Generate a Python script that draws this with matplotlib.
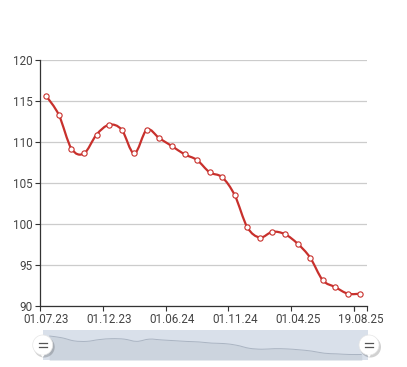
import numpy as np
import matplotlib
matplotlib.use("Agg")
import matplotlib.pyplot as plt
from matplotlib.path import Path
from matplotlib.patches import PathPatch, Circle, Rectangle

# monthly values (26 categories)
values = [115.6, 113.3, 109.2, 108.6, 110.9, 112.1, 111.5, 108.6, 111.5, 110.45,
          109.5, 108.5, 107.8, 106.3, 105.7, 103.5, 99.6, 98.35, 99.05, 98.75,
          97.6, 95.9, 93.15, 92.3, 91.5, 91.5]
label_idx = [0, 5, 10, 15, 20, 25]
labels = ['01.07.23', '01.12.23', '01.06.24', '01.11.24', '01.04.25', '19.08.25']
yticks = [90, 95, 100, 105, 110, 115, 120]

RED = '#c8302c'
TXT = '#444444'
plt.rcParams['font.family'] = ['Roboto', 'DejaVu Sans']

W, H = 407, 367
fig = plt.figure(figsize=(W / 100, H / 100), dpi=100, facecolor='white')


def smooth_path(x, y):
    # catmull-rom through the points, as cubic bezier segments
    pts = np.column_stack([x, y]).astype(float)
    ext = np.vstack([pts[0], pts, pts[-1]])
    verts = [pts[0]]
    codes = [Path.MOVETO]
    for i in range(1, len(ext) - 2):
        p0, p1, p2, p3 = ext[i - 1], ext[i], ext[i + 1], ext[i + 2]
        verts += [p1 + (p2 - p0) / 6, p2 - (p3 - p1) / 6, p2]
        codes += [Path.CURVE4] * 3
    return Path(verts, codes)


x = np.arange(len(values))

ax = fig.add_axes([40 / W, 1 - 306 / H, 326.7 / W, 246 / H])
ax.set_xlim(-0.5, len(values) - 0.5)
ax.set_ylim(90, 120)
for s in ['top', 'right']:
    ax.spines[s].set_visible(False)
for s in ['left', 'bottom']:
    ax.spines[s].set_color('#333333')
    ax.spines[s].set_linewidth(0.9)
ax.set_yticks(yticks)
ax.yaxis.grid(True, color='#cccccc', linewidth=0.9)
ax.set_axisbelow(True)
ax.tick_params(axis='y', length=3.3, width=0.8, color='#333333', labelsize=8.4,
               labelcolor=TXT, pad=2)
ax.set_xticks(label_idx)
ax.set_xticklabels(labels)
ax.set_xticks(list(np.arange(-0.5, len(values), 5)) + [len(values) - 1.5, len(values) - 0.5], minor=True)
ax.tick_params(axis='x', which='major', length=0, labelsize=8.4, labelcolor=TXT, pad=5)
ax.tick_params(axis='x', which='minor', length=3.5, width=0.8, color='#333333')

ax.add_patch(PathPatch(smooth_path(x, values), facecolor='none', edgecolor=RED,
                       linewidth=1.6, capstyle='round', joinstyle='round'))
ax.plot(x, values, linestyle='none', marker='o', markersize=3.8,
        markerfacecolor='white', markeredgecolor=RED, markeredgewidth=0.8)

# navigator / scrollbar
nav = fig.add_axes([43 / W, 1 - 360 / H, 325 / W, 30 / H])
nav.set_xlim(-0.5, len(values) - 0.5)
nav.set_ylim(84.3, 123.4)
nav.set_facecolor('#d9e0ea')
nav.axis('off')
nav.add_patch(Rectangle((-0.5, 84.3), len(values), 39.1, facecolor='#d9e0ea', edgecolor='none'))
nav.fill_between(x, values, 84.3, color='#ccd4de', linewidth=0)
nav.add_patch(PathPatch(smooth_path(x, values), facecolor='none', edgecolor='#aab4c2', linewidth=0.7))

over = fig.add_axes([0, 0, 1, 1], facecolor='none')
over.set_xlim(0, W)
over.set_ylim(H, 0)
over.axis('off')
for cx in (42.7, 369):
    cy = 345
    over.add_patch(Circle((cx + 1.5, cy + 2), 10.5, facecolor='#000000', alpha=0.18, edgecolor='none'))
    over.add_patch(Circle((cx, cy), 10, facecolor='white', edgecolor='#e6e6e6', linewidth=0.5))
    over.plot([cx - 3.8, cx + 3.8], [cy - 1.8, cy - 1.8], color='#555555', linewidth=0.9)
    over.plot([cx - 3.8, cx + 3.8], [cy + 1.8, cy + 1.8], color='#555555', linewidth=0.9)
    over.add_patch(plt.Polygon([[cx - 2, cy + 9.5], [cx + 2, cy + 9.5], [cx, cy + 12.5]],
                               facecolor='white', edgecolor='none'))

fig.savefig('out.png', dpi=100, facecolor='white')
